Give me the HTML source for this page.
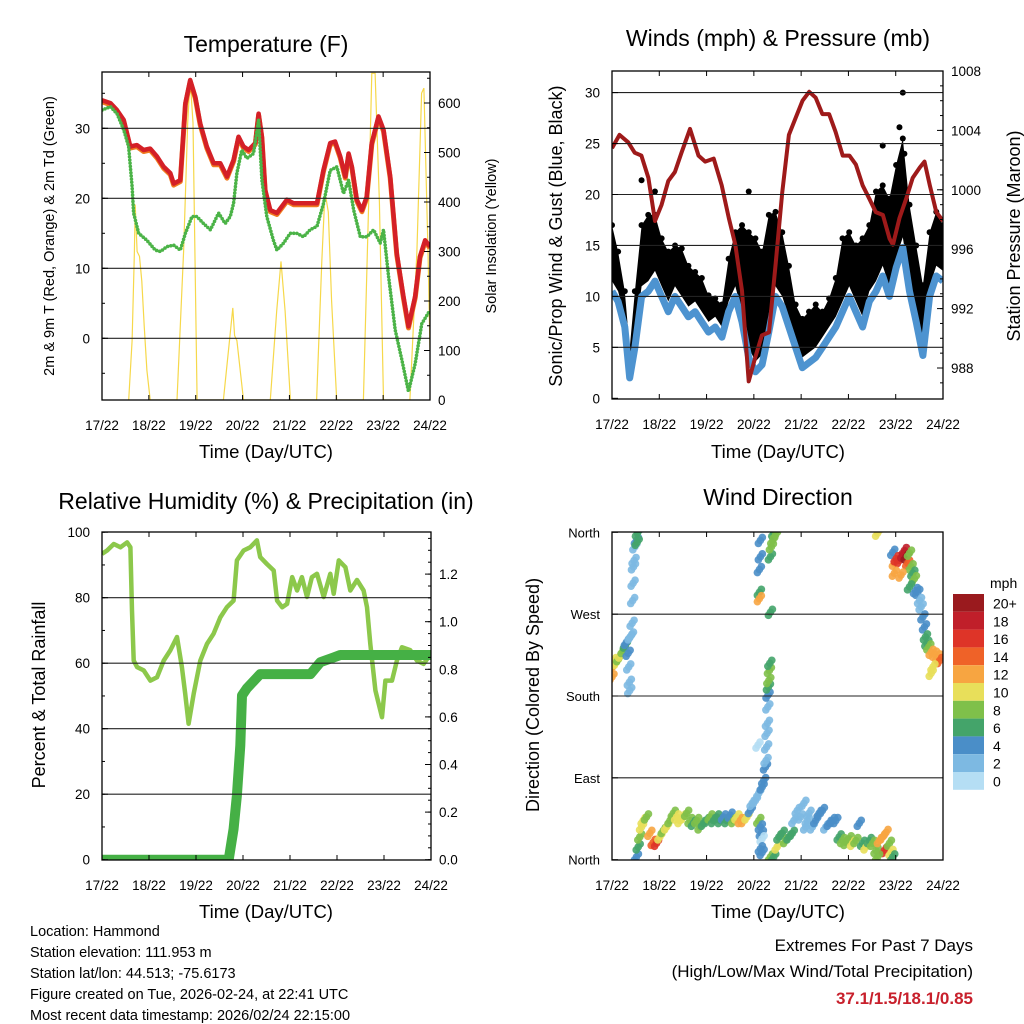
<!DOCTYPE html>
<html><head><meta charset="utf-8"><style>
body{margin:0;background:#fff;}
svg{display:block;font-family:"Liberation Sans",Arial,sans-serif;}
</style></head><body>
<svg id="chart" width="1024" height="1024" viewBox="0 0 1024 1024">
<defs>
<clipPath id="c1"><rect x="102" y="72" width="328" height="328"/></clipPath>
<clipPath id="c2"><rect x="612" y="71" width="331" height="328"/></clipPath>
<clipPath id="c3"><rect x="102" y="532" width="329" height="328"/></clipPath>
<clipPath id="c4"><rect x="612" y="532" width="331" height="328"/></clipPath>
</defs>
<text x="266" y="52" font-size="23" text-anchor="middle">Temperature (F)</text>
<text x="778" y="46" font-size="23" text-anchor="middle">Winds (mph) &amp; Pressure (mb)</text>
<text x="266" y="509" font-size="23" text-anchor="middle">Relative Humidity (%) &amp; Precipitation (in)</text>
<text x="778" y="505" font-size="23" text-anchor="middle">Wind Direction</text>
<text transform="translate(54,236) rotate(-90)" font-size="14.5" text-anchor="middle">2m &amp; 9m T (Red, Orange) &amp; 2m Td (Green)</text>
<text transform="translate(496,236) rotate(-90)" font-size="14.5" text-anchor="middle">Solar Insolation (Yellow)</text>
<text transform="translate(562,236) rotate(-90)" font-size="18" text-anchor="middle">Sonic/Prop Wind &amp; Gust (Blue, Black)</text>
<text transform="translate(1020,236) rotate(-90)" font-size="18" text-anchor="middle">Station Pressure (Maroon)</text>
<text transform="translate(45,695) rotate(-90)" font-size="18" text-anchor="middle">Percent &amp; Total Rainfall</text>
<text transform="translate(539,695) rotate(-90)" font-size="18" text-anchor="middle">Direction (Colored By Speed)</text>
<text x="266" y="458" font-size="18.5" text-anchor="middle">Time (Day/UTC)</text>
<text x="778" y="458" font-size="18.5" text-anchor="middle">Time (Day/UTC)</text>
<text x="266" y="918" font-size="18.5" text-anchor="middle">Time (Day/UTC)</text>
<text x="778" y="918" font-size="18.5" text-anchor="middle">Time (Day/UTC)</text>
<g font-size="14.5">
<text x="30" y="936">Location: Hammond</text>
<text x="30" y="957">Station elevation: 111.953 m</text>
<text x="30" y="978">Station lat/lon: 44.513; -75.6173</text>
<text x="30" y="999">Figure created on Tue, 2026-02-24, at 22:41 UTC</text>
<text x="30" y="1020">Most recent data timestamp: 2026/02/24 22:15:00</text>
</g>
<g font-size="17" text-anchor="end">
<text x="973" y="951">Extremes For Past 7 Days</text>
<text x="973" y="977">(High/Low/Max Wind/Total Precipitation)</text>
<text x="973" y="1004" fill="#c8202c" font-weight="bold">37.1/1.5/18.1/0.85</text>
</g>
<text x="990" y="588" font-size="14">mph</text>
</svg>
<script>
// ---- data ----
const dayLabels=["17/22","18/22","19/22","20/22","21/22","22/22","23/22","24/22"];
const tempTicks=[0,10,20,30];
const solarTicks=[0,100,200,300,400,500,600];
const windTicks=[0,5,10,15,20,25,30];
const presTicks=[988,992,996,1000,1004,1008];
const rhTicks=[0,20,40,60,80,100];
const precipTicks=[0.0,0.2,0.4,0.6,0.8,1.0,1.2];
const dirTicks=[0,90,180,270,360];
const dirTickLabels=["North","East","South","West","North"];
const speedBins=["0","2","4","6","8","10","12","14","16","18","20+"];
const speedColors=["#b5def4","#7db9e2","#4a8ec8","#44a46a","#7fc04a","#e8df5a","#f7a541","#ef6228","#de3428","#c01f2a","#9a1a1e"];

const tempHours=[0,4.3,7.7,11.1,14.5,17.9,21.3,24.7,28.1,31.6,35,36.7,40.1,42.7,45.2,47.8,50.3,53.7,57.2,60.6,64,67.4,69.9,72.5,75.1,78.5,80.2,81.9,83.6,86.2,89.6,94.7,98.1,101.5,104.9,110.1,113.4,116.9,119.4,122,124.6,126.3,128,130.5,133.1,135.6,138.2,141.6,144.2,147.6,151,154.4,157,160.4,162.9,165.5,168];
const temp2m=[34,33.6,32.6,31.2,27.4,27.6,26.9,27.1,26,24.5,23.6,22.1,22.6,33.6,36.9,34.5,30.7,27.4,25,25,23.1,25.5,28.8,27.4,26.9,27.9,32.1,28.8,21.2,18.3,17.9,19.8,19.3,19.3,19.3,19.3,24,27.9,28.1,26,23.1,26.4,24.5,19.8,18.3,20.2,27.9,31.7,29.8,23.1,12.1,6,1.7,6,11.7,14,13.1];
const dewHours=[0,4.3,7.7,11.1,13.6,15.4,16.2,18.8,23,27.3,29.9,33.3,36.7,40.1,42.7,46.1,48.6,52,55.5,59.7,63.1,65.7,67.4,69.1,71.6,74.2,77.6,80.2,81.9,84.4,87.8,89.6,93,96.4,99.8,103.2,106.6,110.1,113.5,116.9,120.3,123.7,126.3,128.9,132.3,135.7,139.1,142.5,144.2,146.8,150.2,153.6,157,160.4,163.8,168];
const dewpoint=[32.6,33.1,32.1,29.8,27.4,21.7,17.9,15,14,12.6,12.4,13.1,13.3,12.6,15,17.4,17.4,16.4,15.5,17.9,16.4,17.4,19.3,23.6,26.9,25.7,26.4,31.2,22.6,17.4,14,12.6,13.6,15,15,14.5,15.5,16,19.3,24,24.5,20.7,22.6,18.3,14.5,14.5,15.5,13.6,15.5,8.8,1.2,-3.1,-7.6,-3.6,2.1,4];
const solarHours=[13.7,15.4,16.6,17,18,19.2,20.4,21.6,23,24.7,38.4,41.8,43.9,45.1,46.6,48.7,62.2,65.8,67,67.9,69.1,72.5,86.2,89.5,91.7,93.8,96.5,109.9,112.6,114.2,115.9,117.6,120.2,133.9,136.6,138.2,139.9,142.1,144.2,157.7,161.3,163.7,164.9,167,168];
const solarValues=[0,120,300,395,300,290,240,150,60,0,0,300,560,650,560,0,0,140,186,130,120,0,0,180,280,180,0,0,280,420,380,200,0,0,400,660,660,400,0,0,300,620,630,300,100];

const windHours=[0,3.1,6.5,9,11.6,15,18.4,21.8,25.2,28.6,32,35.4,38.8,42.2,45.6,49,52.4,55.8,59.2,62.6,66,69.4,72.8,76.2,79.6,83,86.4,89.8,93.2,96.6,100,103.4,106.8,110.2,113.6,117,120.4,123.8,127.2,130.6,134,137.4,140.8,144.2,147.6,151,154.4,157.8,161.2,164.6,168];
const windSpeed=[10.5,9.5,7,2,5,10,10.5,11.5,10,8.5,10,9,8,8.5,7.5,6.5,7,6,8.5,10,7.5,4,2.6,3.3,6.5,10,9,7,5,3,3.5,4,5,6,7,8.5,10,8.5,7,9.5,10.5,12,10,12.8,14.8,10.5,7.5,4.2,10,12,11.5];
const windGust=[17,14.4,10.5,4.9,10.5,17,18,18,15.7,14.4,15,14.7,13,12.4,11.8,10.1,9.8,9.2,13.7,16.3,17,16.3,15.7,14.4,18,18.3,16.3,13,9.2,7.8,8.5,9.2,8.5,9.8,11.8,15.7,16.3,15,15.7,17,20.3,20.9,19.6,22.9,25.5,19,15,11.1,16.3,18.3,17];
const peakGustHours=[15,21.8,69.4,137.4,145.9,147.6,148.4];
const peakGust=[21.4,20.3,20.3,24.8,26.6,30,24];
const presHours=[0,3.8,8.2,11.5,14.9,18.5,21.8,25.2,28.6,31.9,35.3,39.6,43.9,47.3,51.6,55.7,59.3,62.6,66,69.4,72.7,76.1,79.7,83,86.4,89.8,93.1,96.7,100.1,103.4,106.8,110.2,113.5,117.1,120.5,123.8,127.2,130.6,133.9,137.5,140.9,142.6,145.9,149.3,152.6,156.2,158.6,161.3,164.6,168];
const pressure=[1002.8,1003.7,1003.2,1002.5,1002.3,1000.8,997.9,999,1000.6,1001.2,1002.5,1004.1,1002.3,1001.9,1002.1,1000.3,998.1,996.3,993.2,987.1,988.7,990.2,990.4,994.9,999.8,1003.7,1004.8,1006,1006.6,1006.2,1005.1,1005.1,1003.9,1002.3,1002.3,1001.7,1000.3,999.4,998.5,998.3,996.7,996.3,998.1,999.4,1000.8,1001.5,1001.9,1000.3,998.5,997.9];

const rhHours=[0,2.6,6,9.4,12.8,14.5,15.3,16.2,17.9,21.3,24.7,28.1,31.5,34.9,38.3,40.8,42.5,44.2,46.8,50.2,53.6,57,60.4,63.8,67.2,68.9,72.3,75.7,79.1,80.8,84.2,87.7,89.4,92,94.5,97.1,99.6,102.1,104.7,107.2,109.8,113.2,116.6,118.3,120.9,124.3,126.8,130.2,133.6,135.3,137,139.6,143,144.7,148.1,150.6,153.2,157.4,160.8,164.2,168];
const relHumidity=[93.4,94.4,96.4,95.4,96.9,95.4,76,60.8,58.8,57.8,54.7,55.7,60.8,63.9,68,58.8,50.7,41.5,50.7,60.8,65.9,69,74,77.1,79.1,91.4,94.4,95.4,97.5,92.4,90.3,88.3,79.1,77.1,78.1,86.3,82.2,86.3,80.2,86.3,87.3,80.2,87.3,81.2,91.4,89.3,82.2,85.4,82.2,77.1,65.9,51.7,43.5,54.7,54.7,60.8,64.9,64,60.8,59.8,62.9];
const precipHours=[0,64.7,67.2,68.9,70.6,71.5,74,77.4,80.8,84.2,106.4,111.5,118.3,121.7,168];
const precipTotal=[0,0,0.13,0.27,0.48,0.69,0.72,0.75,0.78,0.78,0.78,0.83,0.85,0.86,0.86];

const dirHours=[0,0.3,1,2.2,3.4,4.4,5.6,6.8,7.3,8.2,8.5,8.8,9,9.2,9.9,10.2,10.5,10.7,10.9,11.2,11.6,12.4,12.9,12.8,
12.4,13.3,14.1,15,15.8,17.5,19.2,20.9,22.6,24.3,26,27.7,29.4,31.1,32.8,34.5,36.2,37.9,39.6,41.3,43,44.7,46.4,48.1,49.8,51.5,53.2,54.9,56.6,58.3,60,61.7,63.4,65.1,66.8,68.5,70.2,71.1,72.8,74.5,76.2,77,77.9,78.2,78.5,78.7,78.9,79.1,79.2,79.4,79.6,79.9,80.1,74.1,75.3,75.3,74.8,74.8,74.8,80.4,80.4,80.9,81.6,82.1,83,74.5,75.3,75.8,76.2,75.3,76.2,
80.4,82.1,83.8,84.7,86.4,88.1,89.8,91.5,92.3,94,95.7,97.4,98.3,99.1,100,101.7,103.4,105.1,106.8,108.5,110.2,111.9,113.6,115.3,117,118.7,120.4,122.1,123.8,125.5,127.2,128.9,130.6,132.3,134,135.7,137.4,138.2,139.1,140.8,141.6,142.5,134.8,
134.8,142.5,143.3,144.2,145.9,147.6,148.4,149.3,150.1,151,151.8,152.7,153.5,154,155.2,156.1,156.9,157.8,158.6,159.1,159.8,160.8,162,163.7,165.4,166.3,162.9,162,143.3,146.7,151];
const dirDegrees=[201,212,219,217,221,225,230,236,239,227,212,195,186,245,247,260,285,304,322,329,344,351,359,349,
3,14,25,36,43,47,29,19,18,25,32,36,43,51,47,43,47,51,43,40,43,36,40,43,47,43,47,43,47,43,49,43,47,43,43,47,54,62,65,73,80,87,102,109,124,139,150,168,181,190,197,208,216,126,351,333,319,294,287,272,333,344,351,359,357,43,36,29,23,12,8,
3,3,14,25,29,21,25,29,43,54,47,62,36,43,51,36,43,51,54,36,40,43,43,25,21,19,23,18,21,40,18,14,21,18,10,21,25,10,30,18,8,3,3,
359,338,326,331,329,335,340,333,326,337,322,315,309,296,294,285,278,267,256,245,238,234,228,226,223,219,212,205,315,313,300];
const dirSpeed=[12,12,10,10,8,10,8,6,4,4,2,2,2,2,2,2,2,2,2,2,2,4,6,6,
4,6,8,10,10,8,12,14,16,10,8,10,8,8,10,10,10,8,8,6,8,8,6,6,8,6,6,6,4,6,4,8,10,12,12,10,4,2,2,2,4,4,4,2,2,2,2,2,4,6,8,8,6,0,4,4,4,6,12,6,6,8,8,6,8,8,4,4,0,4,4,
8,6,10,6,6,8,6,6,2,2,2,2,2,2,2,2,4,4,4,2,4,4,4,6,8,8,8,10,8,4,6,10,6,8,8,12,12,16,12,8,10,6,8,
10,4,12,16,16,18,18,20,14,8,8,6,8,4,4,2,2,4,4,6,6,8,12,12,12,14,10,10,12,12,6];

// ---- rendering ----
const NS="http://www.w3.org/2000/svg";
const svg=document.getElementById('chart');
function mk(tag,attrs,parent){const e=document.createElementNS(NS,tag);for(const k in attrs)e.setAttribute(k,attrs[k]);(parent||svg).appendChild(e);return e;}
function pathFrom(xs,ys,fx,fy){let d="";for(let i=0;i<xs.length;i++){d+=(i?"L":"M")+fx(xs[i]).toFixed(1)+","+fy(ys[i]).toFixed(1);}return d;}

const panels=[
 {id:"temp",x0:102,x1:430,y0:72,y1:400,clip:"c1"},
 {id:"wind",x0:612,x1:943,y0:71,y1:399,clip:"c2"},
 {id:"rh",x0:102,x1:431,y0:532,y1:860,clip:"c3"},
 {id:"dir",x0:612,x1:943,y0:532,y1:860,clip:"c4"}
];
function txf(p){return h=>p.x0+h/168*(p.x1-p.x0);}
const tx1=txf(panels[0]),tx2=txf(panels[1]),tx3=txf(panels[2]),tx4=txf(panels[3]);
const ty1=v=>338.3-7*v, sy1=w=>400-w*0.495;
const wy=v=>398.3-v*10.19, py=p=>368-(p-988)*14.85;
const ry=v=>859.7-v*3.275, ppy=v=>859.7-v*238;
const dy=d=>859.7-d*327.4/360;

function gridAndFrame(p,leftVals,leftFn,leftLabels,rightVals,rightFn,rightLabels,gridVals,leftMinor,rightMinor,lfs){
  const g=mk('g',{});
  
  
  gridVals.forEach(v=>{const y=leftFn(v);if(y>p.y0+1&&y<p.y1-1){const l=mk('line',{x1:p.x0,x2:p.x1,y1:y,y2:y,stroke:'#222','stroke-width':1.1},g);
    
    }});
  dayLabels.forEach((lab,i)=>{const x=p.x0+i*(p.x1-p.x0)/7;
    mk('line',{x1:x,x2:x,y1:p.y1,y2:p.y1-5,stroke:'#000'},g);mk('line',{x1:x,x2:x,y1:p.y0,y2:p.y0+5,stroke:'#000'},g);
    const t=mk('text',{x:x,y:p.y1+30,'font-size':13.5,'text-anchor':'middle'},g);t.textContent=lab;
    
    });
  leftVals.forEach((v,i)=>{const y=leftFn(v);mk('line',{x1:p.x0,x2:p.x0+6,y1:y,y2:y,stroke:'#000'},g);
    const t=mk('text',{x:p.x0-12,y:y+5,'font-size':lfs||13.5,'text-anchor':'end'},g);t.textContent=leftLabels[i];
    
    });
  leftMinor.forEach(v=>{const y=leftFn(v);if(y>p.y0&&y<p.y1)mk('line',{x1:p.x0,x2:p.x0+3,y1:y,y2:y,stroke:'#000'},g);});
  rightVals.forEach((v,i)=>{const y=rightFn(v);mk('line',{x1:p.x1,x2:p.x1-6,y1:y,y2:y,stroke:'#000'},g);
    if(rightLabels){const t=mk('text',{x:p.x1+8,y:y+5,'font-size':13.5},g);t.textContent=rightLabels[i];
    
    }});
  rightMinor.forEach(v=>{const y=rightFn(v);if(y>p.y0&&y<p.y1)mk('line',{x1:p.x1,x2:p.x1-3,y1:y,y2:y,stroke:'#000'},g);});
  const fr=mk('rect',{x:p.x0,y:p.y0,width:p.x1-p.x0,height:p.y1-p.y0,fill:'none',stroke:'#000','stroke-width':1.3},g);
  
  
}
function range(a,b,s){const r=[];for(let v=a;v<=b+1e-9;v+=s)r.push(+v.toFixed(3));return r;}

// Panel 1
(function(){const p=panels[0];const g=mk('g',{'clip-path':'url(#'+p.clip+')'});
 
 
 gridAndFrame(p,tempTicks,ty1,tempTicks.map(String),solarTicks,sy1,solarTicks.map(String),tempTicks,range(-5,35,5),range(0,650,50));
 const s=mk('path',{d:pathFrom(solarHours,solarValues,tx1,sy1),fill:'none',stroke:'#f6d84a','stroke-width':1.2},g);
 
 
 const o=mk('path',{d:pathFrom(tempHours,temp2m,tx1,v=>ty1(v)+1.5),fill:'none',stroke:'#f07a1f','stroke-width':5,'stroke-linejoin':'round'},g);
 
 
 const r=mk('path',{d:pathFrom(tempHours,temp2m,tx1,ty1),fill:'none',stroke:'#d42027','stroke-width':4.5,'stroke-linejoin':'round'},g);
 
 
 const d=mk('path',{d:pathFrom(dewHours,dewpoint,tx1,ty1),fill:'none',stroke:'#4bb347','stroke-width':3.6,'stroke-dasharray':'0 3.2','stroke-linecap':'round'},g);
 
 
})();

// Panel 2
(function(){const p=panels[1];const g=mk('g',{'clip-path':'url(#'+p.clip+')'});
 
 
 gridAndFrame(p,windTicks,wy,windTicks.map(String),presTicks,py,presTicks.map(String),windTicks,[],range(987,1009,1));
 let d="";for(let i=0;i<windHours.length;i++)d+=(i?"L":"M")+tx2(windHours[i]).toFixed(1)+","+wy(windGust[i]).toFixed(1);
 for(let i=windHours.length-1;i>=0;i--)d+="L"+tx2(windHours[i]).toFixed(1)+","+wy(windSpeed[i]+1).toFixed(1);
 const a=mk('path',{d:d+"Z",fill:'#000'},g);
 
 
 windHours.forEach((h,i)=>{const c=mk('circle',{cx:tx2(h),cy:wy(windGust[i]),r:3,fill:'#000'},g);
  
  });
 peakGustHours.forEach((h,i)=>{const c=mk('circle',{cx:tx2(h),cy:wy(peakGust[i]),r:3,fill:'#000'},g);
  
  });
 const w=mk('path',{d:pathFrom(windHours,windSpeed,tx2,wy),fill:'none',stroke:'#4d93d0','stroke-width':7,'stroke-linejoin':'round'},g);
 
 
 const pr=mk('path',{d:pathFrom(presHours,pressure,tx2,py),fill:'none',stroke:'#9e1a1a','stroke-width':4,'stroke-linejoin':'round'},g);
 
 
})();

// Panel 3
(function(){const p=panels[2];const g=mk('g',{'clip-path':'url(#'+p.clip+')'});
 
 
 gridAndFrame(p,rhTicks,ry,rhTicks.map(String),precipTicks,ppy,precipTicks.map(v=>v.toFixed(1)),rhTicks,range(0,100,10),range(0,1.35,0.05));
 const h=mk('path',{d:pathFrom(rhHours,relHumidity,tx3,ry),fill:'none',stroke:'#8cc84b','stroke-width':4.5,'stroke-linejoin':'round'},g);
 
 
 const pp=mk('path',{d:pathFrom(precipHours,precipTotal,tx3,ppy),fill:'none',stroke:'#45b045','stroke-width':10,'stroke-linejoin':'round'},g);
 
 
})();

// Panel 4
(function(){const p=panels[3];const g=mk('g',{'clip-path':'url(#'+p.clip+')'});
 
 
 gridAndFrame(p,dirTicks,dy,dirTickLabels,[],dy,null,dirTicks,[],[],13);
 const offs=[[0,0],[-2,3],[2,-3]];
 dirHours.forEach((h,i)=>{const col=speedColors[Math.min(10,Math.round(dirSpeed[i]/2))];
  offs.forEach(o=>{const c=mk('circle',{cx:tx4(h)+o[0],cy:dy(dirDegrees[i])+o[1],r:3.8,fill:col,'fill-opacity':0.9},g);
   
   });});
 const cb=mk('g',{});
 
 
 speedBins.forEach((lab,i)=>{const k=10-i;const y=594+i*17.8;
  const r=mk('rect',{x:953,y:y,width:31,height:17.8,fill:speedColors[k]},cb);
  
  
  const t=mk('text',{x:993,y:y+14.5,'font-size':14},cb);t.textContent=speedBins[k];
  
  });
})();
</script>
</body></html>
